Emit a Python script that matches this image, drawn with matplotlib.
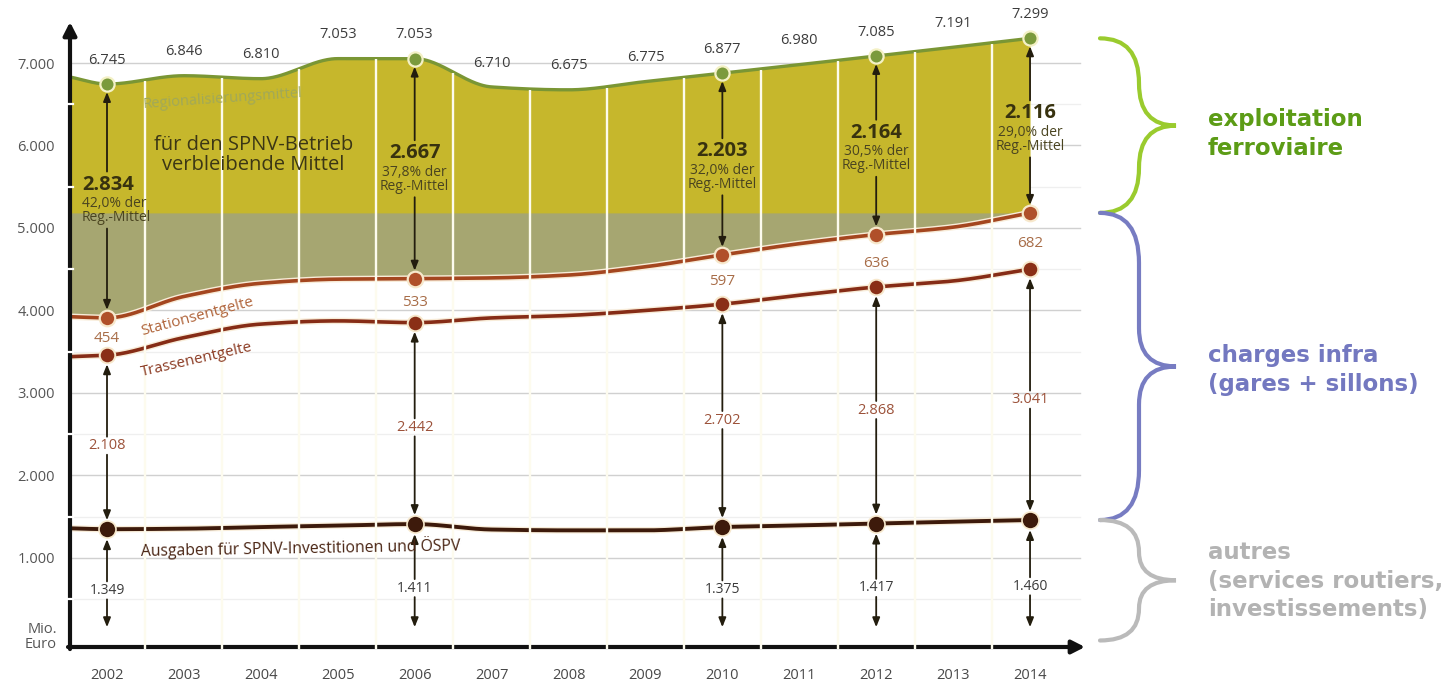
import numpy as np
import matplotlib
matplotlib.use("Agg")
import matplotlib.pyplot as plt
from matplotlib.path import Path
from matplotlib.patches import PathPatch
import matplotlib.patheffects as pe

plt.rcParams["font.family"] = ["Open Sans", "DejaVu Sans"]

# ---------------------------------------------------------------- data (Mio. Euro)
years = list(range(2002, 2015))
key_years = [2002, 2006, 2010, 2012, 2014]

# Regionalisierungsmittel per year
reg_mittel = [6745, 6846, 6810, 7053, 7053, 6710, 6675, 6775, 6877, 6980, 7085, 7191, 7299]

# stacked levels of the cost bands per year
invest_level = [1349, 1355, 1375, 1392, 1411, 1345, 1335, 1335, 1375, 1395, 1417, 1440, 1460]
trassen_level = [3457, 3671, 3835, 3874, 3853, 3910, 3940, 4000, 4077, 4185, 4285, 4358, 4501]
station_level = [3911, 4170, 4330, 4380, 4386, 4395, 4430, 4530, 4674, 4810, 4921, 5010, 5183]

# levels where the curves meet the y axis
axis_start_reg = 6830
axis_start_station = 3925
axis_start_trassen = 3440
axis_start_invest = 1360

# labelled amounts in the key years
invest_amt = [1349, 1411, 1375, 1417, 1460]
trassen_amt = [2108, 2442, 2702, 2868, 3041]
station_amt = [454, 533, 597, 636, 682]
remaining_amt = [2834, 2667, 2203, 2164, 2116]
remaining_pct = [42.0, 37.8, 32.0, 30.5, 29.0]

y_ticks = [1000, 2000, 3000, 4000, 5000, 6000, 7000]

# ---------------------------------------------------------------- helpers
def de(v):
    return f"{v:,}".replace(",", ".")


def pchip(x, y, xs):
    x = np.asarray(x, float)
    y = np.asarray(y, float)
    h = np.diff(x)
    d = np.diff(y) / h
    m = np.zeros_like(y)
    for k in range(1, len(y) - 1):
        if d[k - 1] * d[k] > 0:
            w1 = 2 * h[k] + h[k - 1]
            w2 = h[k] + 2 * h[k - 1]
            m[k] = (w1 + w2) / (w1 / d[k - 1] + w2 / d[k])
    m[0] = d[0]
    m[-1] = d[-1]
    idx = np.clip(np.searchsorted(x, xs) - 1, 0, len(x) - 2)
    t = (xs - x[idx]) / h[idx]
    h00 = 2 * t**3 - 3 * t**2 + 1
    h10 = t**3 - 2 * t**2 + t
    h01 = -2 * t**3 + 3 * t**2
    h11 = t**3 - t**2
    return (h00 * y[idx] + h10 * h[idx] * m[idx]
            + h01 * y[idx + 1] + h11 * h[idx] * m[idx + 1])


# ---------------------------------------------------------------- figure / axes
W, H = 1450, 684
fig = plt.figure(figsize=(W / 100, H / 100), dpi=100)
fig.patch.set_facecolor("white")
ax = fig.add_axes([70 / W, 37 / H, 1015 / W, 625 / H])

PX_X = 1 / 76.92          # years per pixel
PX_Y = 1 / 0.0825         # Mio. Euro per pixel
XMIN = 2002 - 37 * PX_X
XMAX = 2002 + 978 * PX_X
YMIN = -79
YMAX = 7497
ax.set_xlim(XMIN, XMAX)
ax.set_ylim(YMIN, YMAX)
for s in ax.spines.values():
    s.set_visible(False)

ax.set_xticks(years)
ax.set_xticklabels([str(y) for y in years])
ax.set_yticks(y_ticks)
ax.set_yticklabels([de(v) for v in y_ticks])
ax.tick_params(axis="x", length=0, pad=15, labelsize=10.5, labelcolor="#484848")
ax.tick_params(axis="y", length=0, pad=11, labelsize=10.5, labelcolor="#555555")
ax.text(XMIN - 13 * PX_X, 42, "Mio.\nEuro", ha="right", va="center",
        fontsize=10.5, color="#555555", linespacing=1.0, clip_on=False)

# grid
grid_right = XMAX - 5 * PX_X
for v in y_ticks:
    ax.plot([XMIN, grid_right], [v, v], color="#d0d0d0", lw=1.0, zorder=0.5)
for v in range(500, 7000, 1000):
    ax.plot([XMIN, grid_right], [v, v], color="#efefef", lw=0.9, zorder=0.4)

# ---------------------------------------------------------------- curves
xs = np.linspace(XMIN, 2014, 900)
cx = [XMIN] + years
reg_s = pchip(cx, [axis_start_reg] + reg_mittel, xs)
st_s = pchip(cx, [axis_start_station] + station_level, xs)
tr_s = pchip(cx, [axis_start_trassen] + trassen_level, xs)
iv_s = pchip(cx, [axis_start_invest] + invest_level, xs)

band_top = station_level[-1]
ax.fill_between(xs, st_s, reg_s, color="#c6b72c", lw=0, zorder=1)
ax.fill_between(xs, st_s, np.minimum(reg_s, band_top), where=st_s < band_top,
                color="#a6a671", lw=0, zorder=1.1)

halo = [pe.Stroke(linewidth=4.6, foreground="#f8ecd8"), pe.Normal()]
ax.plot(xs, reg_s, color="#7a9634", lw=2.4, zorder=3, solid_capstyle="butt")
ax.plot(xs, st_s, color="#a4461f", lw=2.6, zorder=3, path_effects=halo)
ax.plot(xs, tr_s, color="#862c16", lw=2.6, zorder=3, path_effects=halo)
ax.plot(xs, iv_s, color="#3d1a0b", lw=2.8, zorder=3, path_effects=halo)

# axis arrows
arrow_kw = dict(arrowstyle="-|>,head_length=0.55,head_width=0.28", lw=3.0,
                color="#111111", shrinkA=0, shrinkB=0, mutation_scale=14)
ax.annotate("", xy=(XMIN, YMAX), xytext=(XMIN, YMIN - 25),
            arrowprops=arrow_kw, annotation_clip=False, zorder=3.2)
ax.annotate("", xy=(XMAX, YMIN), xytext=(XMIN - 2 * PX_X, YMIN),
            arrowprops=arrow_kw, annotation_clip=False, zorder=3.2)
for v in range(500, 7000, 1000):
    ax.plot([XMIN - 3 * PX_X, XMIN + 3 * PX_X], [v, v], color="white",
            lw=1.6, zorder=3.3, clip_on=False)

# white separators between the years
mids = np.arange(2002.5, 2014, 1.0)
reg_mid = pchip(cx, [axis_start_reg] + reg_mittel, mids)
ax.vlines(mids, YMIN - 30, reg_mid - 10, color="#fdfbee", lw=1.7,
          zorder=3.5, clip_on=False)

# ---------------------------------------------------------------- markers
inv_mark = np.array(invest_amt)
tr_mark = inv_mark + np.array(trassen_amt)
st_mark = tr_mark + np.array(station_amt)
reg_mark = st_mark + np.array(remaining_amt)

ax.scatter(key_years, reg_mark, s=105, color="#7b9a3c", edgecolor="#f4f1c6",
           lw=1.6, zorder=5)
ax.scatter(key_years, st_mark, s=125, color="#b0502a", edgecolor="#f7e8cc",
           lw=1.6, zorder=5)
ax.scatter(key_years, tr_mark, s=125, color="#8a2f17", edgecolor="#f7e8cc",
           lw=1.4, zorder=5)
ax.scatter(key_years, inv_mark, s=150, color="#3d1a0b", edgecolor="#f7e8cc",
           lw=1.2, zorder=5)

# ---------------------------------------------------------------- value labels
for yr, v in zip(years, reg_mittel):
    ax.text(yr, v + 290, de(v), ha="center", va="center", fontsize=10.5,
            color="#3c3c3c", zorder=6, clip_on=False)

seg_kw = dict(arrowstyle="-|>,head_length=0.55,head_width=0.22", lw=1.3,
              color="#231d0e", shrinkA=0, shrinkB=0, mutation_scale=10)


def gap_arrow(x, y_lo, y_hi, gap_lo, gap_hi, pad=8):
    ax.annotate("", xy=(x, y_hi - pad * PX_Y), xytext=(x, gap_hi),
                arrowprops=seg_kw, zorder=4)
    ax.annotate("", xy=(x, y_lo + pad * PX_Y), xytext=(x, gap_lo),
                arrowprops=seg_kw, zorder=4)


# remaining operating funds
for i, yr in enumerate(key_years):
    top, bot = reg_mark[i], st_mark[i]
    mid = bot + 0.57 * (top - bot)
    if yr == 2002:
        tx, ha = yr - 25 * PX_X, "left"
    else:
        tx, ha = yr, "center"
    ax.text(tx, mid, de(remaining_amt[i]), ha=ha, va="center", fontsize=14.5,
            fontweight="bold", color="#38320f", zorder=6)
    pct = f"{remaining_pct[i]:.1f}".replace(".", ",")
    ax.text(tx, mid - 26 * PX_Y, f"{pct}% der\nReg.-Mittel", ha=ha,
            va="center", fontsize=10, color="#4a4420", linespacing=0.95,
            zorder=6)
    gap_arrow(yr, bot, top, mid - 44 * PX_Y, mid + 13 * PX_Y)

# track charges
for i, yr in enumerate(key_years):
    lab = inv_mark[i] + 0.48 * trassen_amt[i]
    ax.text(yr, lab, de(trassen_amt[i]), ha="center", va="center",
            fontsize=10.5, color="#9c523a", zorder=6)
    gap_arrow(yr, inv_mark[i], tr_mark[i], lab - 9 * PX_Y, lab + 9 * PX_Y,
              pad=9)

# station charges
for i, yr in enumerate(key_years):
    lab = tr_mark[i] + 0.45 * station_amt[i]
    ax.text(yr, lab, de(station_amt[i]), ha="center", va="center",
            fontsize=11, color="#a86d48", zorder=6)

# investments
for i, yr in enumerate(key_years):
    lab = 0.45 * inv_mark[i]
    ax.text(yr, lab, de(invest_amt[i]), ha="center", va="center",
            fontsize=10, color="#3a3a3a", zorder=6)
    gap_arrow(yr, 40, inv_mark[i], lab - 9 * PX_Y, lab + 9 * PX_Y, pad=10)

# ---------------------------------------------------------------- band names
ax.text(2003.5, 6560, "Regionalisierungsmittel", rotation=4, ha="center",
        va="center", fontsize=10.5, color="#a0a85a", zorder=6)
ax.text(2003.9, 5885, "für den SPNV-Betrieb\nverbleibende Mittel", ha="center",
        va="center", fontsize=14.5, color="#3b3615", linespacing=1.0, zorder=6)
ax.text(2003.17, 3930, "Stationsentgelte", rotation=15, ha="center",
        va="center", fontsize=11, color="#b0643a", zorder=6)
ax.text(2003.17, 3400, "Trassenentgelte", rotation=13, ha="center",
        va="center", fontsize=11, color="#8b3a22", zorder=6)
ax.text(2004.52, 1130, "Ausgaben für SPNV-Investitionen und ÖSPV", rotation=1,
        ha="center", va="center", fontsize=11.3, color="#4a2514", zorder=6)

# ---------------------------------------------------------------- braces
def brace(y_top, y_bot, color, r_end_px, r_tip_px):
    x0 = 2002 + (1100 - 107) * PX_X
    xm = x0 + 39 * PX_X
    xt = x0 + 76 * PX_X
    ym = (y_top + y_bot) / 2
    re = r_end_px * PX_Y
    rt = r_tip_px * PX_Y
    verts = [(x0, y_top), (xm, y_top), (xm, y_top - re),
             (xm, ym + rt), (xm, ym), (xt, ym),
             (xm, ym), (xm, ym - rt),
             (xm, y_bot + re), (xm, y_bot), (x0, y_bot)]
    codes = [Path.MOVETO, Path.CURVE3, Path.CURVE3,
             Path.LINETO, Path.CURVE3, Path.CURVE3,
             Path.CURVE3, Path.CURVE3,
             Path.LINETO, Path.CURVE3, Path.CURVE3]
    ax.add_patch(PathPatch(Path(verts, codes), fill=False, edgecolor=color,
                           lw=3.0, clip_on=False, capstyle="round",
                           zorder=6))


brace(reg_mittel[-1], station_level[-1], "#9acb2e", 45, 42)
brace(station_level[-1], invest_level[-1], "#777cc2", 50, 38)
brace(invest_level[-1], 0, "#bababa", 32, 28)

tx = 2002 + (1208 - 107) * PX_X
side_kw = dict(ha="left", va="center", fontsize=16.5, fontweight="bold",
               linespacing=1.3, family="DejaVu Sans", clip_on=False)
ax.text(tx, 6139, "exploitation\nferroviaire", color="#5c9c16", **side_kw)
ax.text(tx, 3279, "charges infra\n(gares + sillons)", color="#7378c0", **side_kw)
ax.text(tx, 721, "autres\n(services routiers,\ninvestissements)",
        color="#b3b3b3", **side_kw)

fig.savefig("out.png", dpi=100)
